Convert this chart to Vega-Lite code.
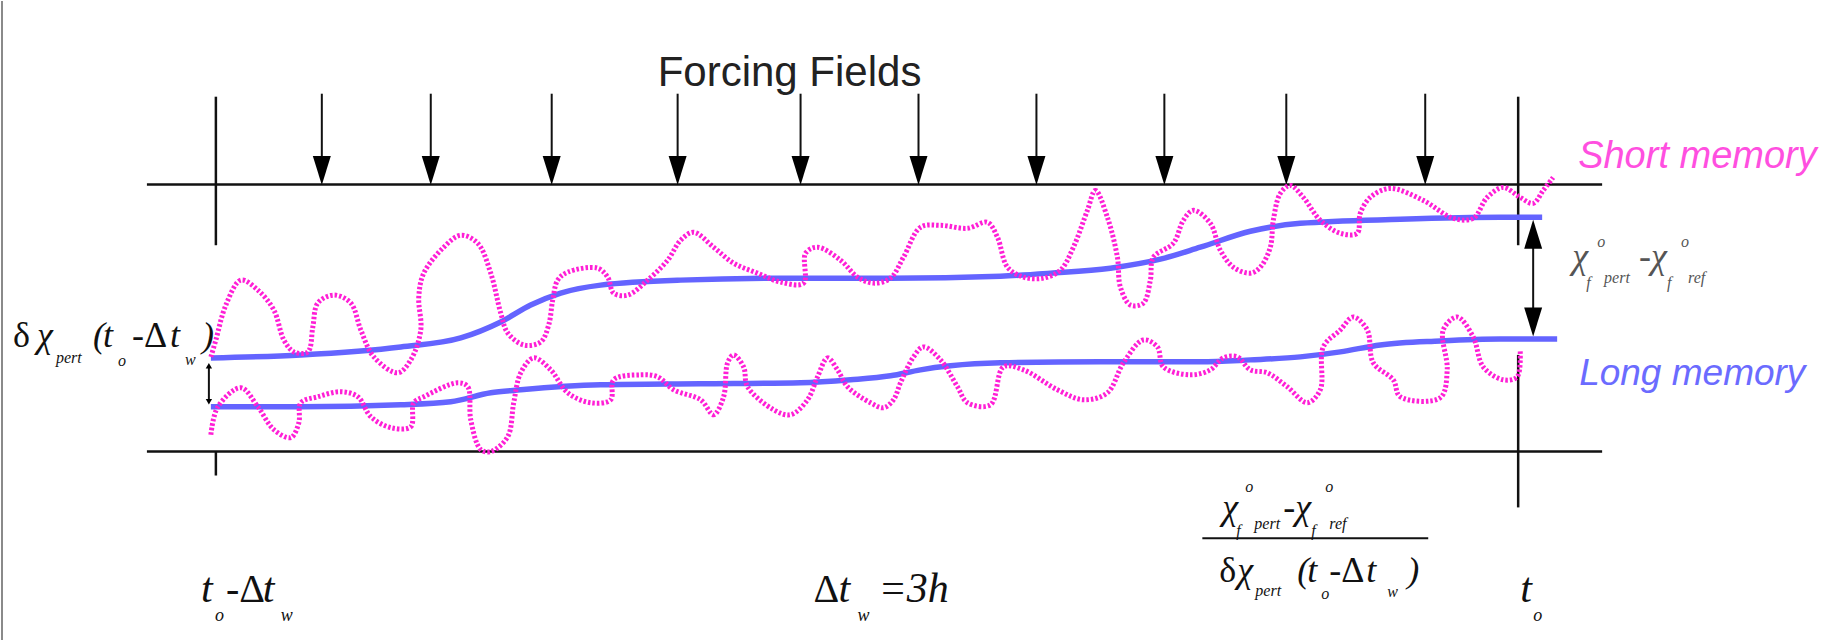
{
  "$schema": "https://vega.github.io/schema/vega-lite/v6.json",
  "width": 1831,
  "height": 641,
  "autosize": {"type": "fit", "contains": "padding"},
  "padding": 0,
  "background": "white",
  "config": {"view": {"stroke": null}},
  "datasets": {
    "border": [{"x": 1, "y": 0, "x2": 1, "y2": 641}],
    "rules": [
      {"x": 146, "y": 184, "x2": 1602, "y2": 184},
      {"x": 146, "y": 452, "x2": 1602, "y2": 452},
      {"x": 215, "y": 96, "x2": 215, "y2": 245},
      {"x": 215, "y": 452, "x2": 215, "y2": 476},
      {"x": 1518, "y": 96, "x2": 1518, "y2": 245},
      {"x": 1518, "y": 355, "x2": 1518, "y2": 508}
    ],
    "thin": [
      {"x": 321, "y": 93, "x2": 321, "y2": 165},
      {"x": 430, "y": 93, "x2": 430, "y2": 165},
      {"x": 551, "y": 93, "x2": 551, "y2": 165},
      {"x": 677, "y": 93, "x2": 677, "y2": 165},
      {"x": 800, "y": 93, "x2": 800, "y2": 165},
      {"x": 918, "y": 93, "x2": 918, "y2": 165},
      {"x": 1036, "y": 93, "x2": 1036, "y2": 165},
      {"x": 1164, "y": 93, "x2": 1164, "y2": 165},
      {"x": 1286, "y": 93, "x2": 1286, "y2": 165},
      {"x": 1425, "y": 93, "x2": 1425, "y2": 165},
      {"x": 1533, "y": 240, "x2": 1533, "y2": 318},
      {"x": 208, "y": 368, "x2": 208, "y2": 400},
      {"x": 1202, "y": 539, "x2": 1428, "y2": 539}
    ],
    "headsDown": [
      {"x": 321, "y": 170}, {"x": 430, "y": 170}, {"x": 551, "y": 170},
      {"x": 677, "y": 170}, {"x": 800, "y": 170}, {"x": 918, "y": 170},
      {"x": 1036, "y": 170}, {"x": 1164, "y": 170}, {"x": 1286, "y": 170},
      {"x": 1425, "y": 170}, {"x": 1533, "y": 322}
    ],
    "headsUp": [{"x": 1533, "y": 234}],
    "smallHeads": [
      {"x": 208, "y": 366, "dir": "up"},
      {"x": 208, "y": 402, "dir": "down"}
    ],
    "blue": [
      {"s": "short", "x": 210, "y": 358}, {"s": "short", "x": 300, "y": 355}, {"s": "short", "x": 400, "y": 347},
      {"s": "short", "x": 460, "y": 338}, {"s": "short", "x": 500, "y": 322}, {"s": "short", "x": 530, "y": 305},
      {"s": "short", "x": 560, "y": 293}, {"s": "short", "x": 600, "y": 285}, {"s": "short", "x": 680, "y": 280},
      {"s": "short", "x": 800, "y": 278}, {"s": "short", "x": 890, "y": 278}, {"s": "short", "x": 1000, "y": 276},
      {"s": "short", "x": 1050, "y": 273}, {"s": "short", "x": 1110, "y": 268}, {"s": "short", "x": 1160, "y": 259},
      {"s": "short", "x": 1200, "y": 247}, {"s": "short", "x": 1250, "y": 231}, {"s": "short", "x": 1300, "y": 223},
      {"s": "short", "x": 1400, "y": 219}, {"s": "short", "x": 1500, "y": 217}, {"s": "short", "x": 1542, "y": 217},
      {"s": "long", "x": 210, "y": 407}, {"s": "long", "x": 300, "y": 407}, {"s": "long", "x": 400, "y": 405},
      {"s": "long", "x": 450, "y": 402}, {"s": "long", "x": 490, "y": 393}, {"s": "long", "x": 520, "y": 390},
      {"s": "long", "x": 600, "y": 385}, {"s": "long", "x": 700, "y": 384}, {"s": "long", "x": 800, "y": 383},
      {"s": "long", "x": 850, "y": 380}, {"s": "long", "x": 890, "y": 376}, {"s": "long", "x": 920, "y": 370},
      {"s": "long", "x": 950, "y": 366}, {"s": "long", "x": 1000, "y": 363}, {"s": "long", "x": 1100, "y": 362},
      {"s": "long", "x": 1200, "y": 362}, {"s": "long", "x": 1250, "y": 360}, {"s": "long", "x": 1300, "y": 357},
      {"s": "long", "x": 1340, "y": 352}, {"s": "long", "x": 1380, "y": 345}, {"s": "long", "x": 1440, "y": 341},
      {"s": "long", "x": 1500, "y": 339}, {"s": "long", "x": 1557, "y": 339}
    ],
    "magShort": [
      {"i": 1, "x": 210, "y": 357}, {"i": 2, "x": 215, "y": 340}, {"i": 3, "x": 225, "y": 305}, {"i": 4, "x": 240, "y": 280},
      {"i": 5, "x": 257, "y": 290}, {"i": 6, "x": 273, "y": 310}, {"i": 7, "x": 283, "y": 340}, {"i": 8, "x": 293, "y": 352},
      {"i": 9, "x": 307, "y": 352}, {"i": 10, "x": 312, "y": 327}, {"i": 11, "x": 317, "y": 303}, {"i": 12, "x": 333, "y": 295},
      {"i": 13, "x": 350, "y": 303}, {"i": 14, "x": 360, "y": 330}, {"i": 15, "x": 373, "y": 357}, {"i": 16, "x": 397, "y": 373},
      {"i": 17, "x": 410, "y": 360}, {"i": 18, "x": 420, "y": 330}, {"i": 19, "x": 418, "y": 297}, {"i": 20, "x": 423, "y": 273},
      {"i": 21, "x": 443, "y": 247}, {"i": 22, "x": 460, "y": 235}, {"i": 23, "x": 477, "y": 243}, {"i": 24, "x": 490, "y": 273},
      {"i": 25, "x": 500, "y": 313}, {"i": 26, "x": 507, "y": 333}, {"i": 27, "x": 523, "y": 345}, {"i": 28, "x": 540, "y": 342},
      {"i": 29, "x": 548, "y": 325}, {"i": 30, "x": 552, "y": 300}, {"i": 31, "x": 557, "y": 280}, {"i": 32, "x": 567, "y": 272},
      {"i": 33, "x": 597, "y": 268}, {"i": 34, "x": 607, "y": 277}, {"i": 35, "x": 613, "y": 293}, {"i": 36, "x": 627, "y": 295},
      {"i": 37, "x": 647, "y": 280}, {"i": 38, "x": 667, "y": 260}, {"i": 39, "x": 680, "y": 240}, {"i": 40, "x": 693, "y": 232},
      {"i": 41, "x": 713, "y": 247}, {"i": 42, "x": 733, "y": 263}, {"i": 43, "x": 757, "y": 273}, {"i": 44, "x": 780, "y": 282},
      {"i": 45, "x": 803, "y": 283}, {"i": 46, "x": 805, "y": 253}, {"i": 47, "x": 817, "y": 247}, {"i": 48, "x": 840, "y": 260},
      {"i": 49, "x": 857, "y": 277}, {"i": 50, "x": 873, "y": 283}, {"i": 51, "x": 890, "y": 278}, {"i": 52, "x": 903, "y": 257},
      {"i": 53, "x": 920, "y": 227}, {"i": 54, "x": 940, "y": 225}, {"i": 55, "x": 967, "y": 228}, {"i": 56, "x": 987, "y": 222},
      {"i": 57, "x": 997, "y": 237}, {"i": 58, "x": 1007, "y": 267}, {"i": 59, "x": 1023, "y": 277}, {"i": 60, "x": 1043, "y": 278},
      {"i": 61, "x": 1060, "y": 270}, {"i": 62, "x": 1073, "y": 247}, {"i": 63, "x": 1087, "y": 210}, {"i": 64, "x": 1095, "y": 190},
      {"i": 65, "x": 1107, "y": 217}, {"i": 66, "x": 1117, "y": 257}, {"i": 67, "x": 1120, "y": 287}, {"i": 68, "x": 1130, "y": 305},
      {"i": 69, "x": 1143, "y": 303}, {"i": 70, "x": 1150, "y": 280}, {"i": 71, "x": 1153, "y": 257}, {"i": 72, "x": 1173, "y": 243},
      {"i": 73, "x": 1183, "y": 220}, {"i": 74, "x": 1193, "y": 210}, {"i": 75, "x": 1210, "y": 223}, {"i": 76, "x": 1220, "y": 250},
      {"i": 77, "x": 1233, "y": 267}, {"i": 78, "x": 1250, "y": 273}, {"i": 79, "x": 1260, "y": 267}, {"i": 80, "x": 1270, "y": 247},
      {"i": 81, "x": 1273, "y": 220}, {"i": 82, "x": 1280, "y": 193}, {"i": 83, "x": 1290, "y": 185}, {"i": 84, "x": 1303, "y": 197},
      {"i": 85, "x": 1320, "y": 220}, {"i": 86, "x": 1340, "y": 233}, {"i": 87, "x": 1357, "y": 233}, {"i": 88, "x": 1360, "y": 213},
      {"i": 89, "x": 1370, "y": 197}, {"i": 90, "x": 1390, "y": 188}, {"i": 91, "x": 1423, "y": 200}, {"i": 92, "x": 1453, "y": 218},
      {"i": 93, "x": 1473, "y": 218}, {"i": 94, "x": 1487, "y": 197}, {"i": 95, "x": 1503, "y": 187}, {"i": 96, "x": 1520, "y": 197},
      {"i": 97, "x": 1533, "y": 203}, {"i": 98, "x": 1543, "y": 190}, {"i": 99, "x": 1553, "y": 177}
    ],
    "magLong": [
      {"i": 1, "x": 210, "y": 435}, {"i": 2, "x": 217, "y": 407}, {"i": 3, "x": 240, "y": 388}, {"i": 4, "x": 257, "y": 407},
      {"i": 5, "x": 273, "y": 430}, {"i": 6, "x": 290, "y": 438}, {"i": 7, "x": 298, "y": 423}, {"i": 8, "x": 300, "y": 403},
      {"i": 9, "x": 317, "y": 397}, {"i": 10, "x": 340, "y": 392}, {"i": 11, "x": 357, "y": 397}, {"i": 12, "x": 370, "y": 417},
      {"i": 13, "x": 390, "y": 428}, {"i": 14, "x": 410, "y": 427}, {"i": 15, "x": 413, "y": 403}, {"i": 16, "x": 423, "y": 397},
      {"i": 17, "x": 457, "y": 383}, {"i": 18, "x": 467, "y": 387}, {"i": 19, "x": 470, "y": 420}, {"i": 20, "x": 480, "y": 450},
      {"i": 21, "x": 490, "y": 452}, {"i": 22, "x": 507, "y": 437}, {"i": 23, "x": 513, "y": 403}, {"i": 24, "x": 520, "y": 373},
      {"i": 25, "x": 533, "y": 358}, {"i": 26, "x": 550, "y": 370}, {"i": 27, "x": 567, "y": 393}, {"i": 28, "x": 590, "y": 403},
      {"i": 29, "x": 610, "y": 400}, {"i": 30, "x": 613, "y": 380}, {"i": 31, "x": 640, "y": 375}, {"i": 32, "x": 657, "y": 377},
      {"i": 33, "x": 673, "y": 390}, {"i": 34, "x": 700, "y": 400}, {"i": 35, "x": 713, "y": 415}, {"i": 36, "x": 723, "y": 397},
      {"i": 37, "x": 727, "y": 363}, {"i": 38, "x": 733, "y": 355}, {"i": 39, "x": 743, "y": 367}, {"i": 40, "x": 747, "y": 387},
      {"i": 41, "x": 773, "y": 410}, {"i": 42, "x": 790, "y": 415}, {"i": 43, "x": 807, "y": 400}, {"i": 44, "x": 817, "y": 377},
      {"i": 45, "x": 827, "y": 358}, {"i": 46, "x": 837, "y": 370}, {"i": 47, "x": 847, "y": 387}, {"i": 48, "x": 870, "y": 403},
      {"i": 49, "x": 883, "y": 408}, {"i": 50, "x": 893, "y": 400}, {"i": 51, "x": 900, "y": 383}, {"i": 52, "x": 913, "y": 357},
      {"i": 53, "x": 923, "y": 347}, {"i": 54, "x": 940, "y": 360}, {"i": 55, "x": 957, "y": 387}, {"i": 56, "x": 967, "y": 403},
      {"i": 57, "x": 990, "y": 405}, {"i": 58, "x": 1003, "y": 367}, {"i": 59, "x": 1023, "y": 370}, {"i": 60, "x": 1057, "y": 390},
      {"i": 61, "x": 1083, "y": 400}, {"i": 62, "x": 1107, "y": 393}, {"i": 63, "x": 1123, "y": 363}, {"i": 64, "x": 1143, "y": 340},
      {"i": 65, "x": 1157, "y": 347}, {"i": 66, "x": 1163, "y": 367}, {"i": 67, "x": 1190, "y": 375}, {"i": 68, "x": 1210, "y": 370},
      {"i": 69, "x": 1223, "y": 358}, {"i": 70, "x": 1237, "y": 357}, {"i": 71, "x": 1250, "y": 370}, {"i": 72, "x": 1267, "y": 373},
      {"i": 73, "x": 1287, "y": 387}, {"i": 74, "x": 1307, "y": 403}, {"i": 75, "x": 1320, "y": 390}, {"i": 76, "x": 1323, "y": 347},
      {"i": 77, "x": 1340, "y": 330}, {"i": 78, "x": 1353, "y": 317}, {"i": 79, "x": 1367, "y": 330}, {"i": 80, "x": 1373, "y": 363},
      {"i": 81, "x": 1393, "y": 380}, {"i": 82, "x": 1400, "y": 397}, {"i": 83, "x": 1440, "y": 398}, {"i": 84, "x": 1447, "y": 370},
      {"i": 85, "x": 1443, "y": 330}, {"i": 86, "x": 1457, "y": 317}, {"i": 87, "x": 1473, "y": 337}, {"i": 88, "x": 1483, "y": 367},
      {"i": 89, "x": 1503, "y": 380}, {"i": 90, "x": 1517, "y": 377}, {"i": 91, "x": 1520, "y": 350}
    ],
    "mathL": [
      {"t": "t", "x": 200, "y": 603}, {"t": "t", "x": 262, "y": 603},
      {"t": "t", "x": 838, "y": 603}, {"t": "=3h", "x": 878, "y": 603},
      {"t": "t", "x": 1520, "y": 603}
    ],
    "mathLup": [
      {"t": "-Δ", "x": 225, "y": 603}, {"t": "Δ", "x": 813, "y": 603}
    ],
    "mathLsub": [
      {"t": "o", "x": 214, "y": 622}, {"t": "w", "x": 280, "y": 622},
      {"t": "w", "x": 857, "y": 622}, {"t": "o", "x": 1533, "y": 622}
    ],
    "mathM": [
      {"t": "χ", "x": 36, "y": 347}, {"t": "(", "x": 92, "y": 347}, {"t": "t", "x": 102, "y": 347},
      {"t": "t", "x": 169, "y": 347}, {"t": ")", "x": 201, "y": 347},
      {"t": "χ", "x": 1237, "y": 583}, {"t": "(", "x": 1297, "y": 583}, {"t": "t", "x": 1307, "y": 583},
      {"t": "t", "x": 1366, "y": 583}, {"t": ")", "x": 1407, "y": 583},
      {"t": "χ", "x": 1222, "y": 520}, {"t": "-χ", "x": 1283, "y": 520}
    ],
    "mathMup": [
      {"t": "δ", "x": 12, "y": 347}, {"t": "-Δ", "x": 131, "y": 347},
      {"t": "δ", "x": 1219, "y": 583}, {"t": "-Δ", "x": 1329, "y": 583}
    ],
    "mathS": [
      {"t": "pert", "x": 55, "y": 363}, {"t": "o", "x": 117, "y": 366}, {"t": "w", "x": 184, "y": 365},
      {"t": "pert", "x": 1255, "y": 597}, {"t": "o", "x": 1321, "y": 600}, {"t": "w", "x": 1387, "y": 598},
      {"t": "f", "x": 1236, "y": 537}, {"t": "pert", "x": 1254, "y": 530}, {"t": "f", "x": 1311, "y": 537}, {"t": "ref", "x": 1329, "y": 530},
      {"t": "o", "x": 1245, "y": 493}, {"t": "o", "x": 1325, "y": 493}
    ],
    "grayM": [
      {"t": "χ", "x": 1572, "y": 268}, {"t": "-χ", "x": 1639, "y": 268}
    ],
    "grayS": [
      {"t": "f", "x": 1586, "y": 288}, {"t": "pert", "x": 1604, "y": 283}, {"t": "f", "x": 1667, "y": 288}, {"t": "ref", "x": 1688, "y": 283},
      {"t": "o", "x": 1597, "y": 247}, {"t": "o", "x": 1681, "y": 247}
    ],
    "title": [{"t": "Forcing Fields", "x": 657, "y": 85}],
    "shortLbl": [{"t": "Short memory", "x": 1578, "y": 168}],
    "longLbl": [{"t": "Long memory", "x": 1579, "y": 385}]
  },
  "encoding": {
    "x": {"field": "x", "type": "quantitative", "scale": {"domain": [0, 1831], "nice": false, "zero": false}, "axis": null},
    "y": {"field": "y", "type": "quantitative", "scale": {"domain": [0, 641], "nice": false, "zero": false, "reverse": true}, "axis": null}
  },
  "layer": [
    {"data": {"name": "border"}, "mark": {"type": "rule", "color": "#8a8a8a", "strokeWidth": 2},
     "encoding": {"x2": {"field": "x2"}, "y2": {"field": "y2"}}},
    {"data": {"name": "rules"}, "mark": {"type": "rule", "color": "#111111", "strokeWidth": 2.5},
     "encoding": {"x2": {"field": "x2"}, "y2": {"field": "y2"}}},
    {"data": {"name": "thin"}, "mark": {"type": "rule", "color": "#111111", "strokeWidth": 2},
     "encoding": {"x2": {"field": "x2"}, "y2": {"field": "y2"}}},
    {"data": {"name": "headsDown"}, "mark": {"type": "point", "shape": "M-0.62,-1L0.62,-1L0,1Z", "filled": true, "color": "#000000", "opacity": 1, "size": 841, "strokeWidth": 0}},
    {"data": {"name": "headsUp"}, "mark": {"type": "point", "shape": "M-0.62,1L0.62,1L0,-1Z", "filled": true, "color": "#000000", "opacity": 1, "size": 841, "strokeWidth": 0}},
    {"data": {"name": "smallHeads"}, "mark": {"type": "point", "filled": true, "color": "#000000", "opacity": 1, "size": 40, "strokeWidth": 0},
     "encoding": {"shape": {"field": "dir", "type": "nominal", "scale": {"domain": ["up", "down"], "range": ["triangle-up", "triangle-down"]}, "legend": null}}},
    {"data": {"name": "blue"}, "mark": {"type": "line", "color": "#6464ff", "strokeWidth": 5.5, "interpolate": "monotone", "strokeCap": "butt"},
     "encoding": {"detail": {"field": "s", "type": "nominal"}}},
    {"data": {"name": "magShort"}, "mark": {"type": "line", "color": "#ff1fd6", "strokeWidth": 5, "strokeDash": [2.5, 2], "interpolate": "catmull-rom"},
     "encoding": {"order": {"field": "i", "type": "quantitative"}}},
    {"data": {"name": "magLong"}, "mark": {"type": "line", "color": "#ff1fd6", "strokeWidth": 5, "strokeDash": [2.5, 2], "interpolate": "catmull-rom"},
     "encoding": {"order": {"field": "i", "type": "quantitative"}}},
    {"data": {"name": "mathL"}, "mark": {"type": "text", "font": "Liberation Serif", "fontStyle": "italic", "fontSize": 42, "align": "left", "baseline": "alphabetic", "color": "#111111"},
     "encoding": {"text": {"field": "t"}}},
    {"data": {"name": "mathLup"}, "mark": {"type": "text", "font": "Liberation Serif", "fontSize": 40, "align": "left", "baseline": "alphabetic", "color": "#111111"},
     "encoding": {"text": {"field": "t"}}},
    {"data": {"name": "mathLsub"}, "mark": {"type": "text", "font": "Liberation Serif", "fontStyle": "italic", "fontSize": 18, "align": "left", "baseline": "alphabetic", "color": "#111111"},
     "encoding": {"text": {"field": "t"}}},
    {"data": {"name": "mathM"}, "mark": {"type": "text", "font": "Liberation Serif", "fontStyle": "italic", "fontSize": 36, "align": "left", "baseline": "alphabetic", "color": "#111111"},
     "encoding": {"text": {"field": "t"}}},
    {"data": {"name": "mathMup"}, "mark": {"type": "text", "font": "Liberation Serif", "fontSize": 36, "align": "left", "baseline": "alphabetic", "color": "#111111"},
     "encoding": {"text": {"field": "t"}}},
    {"data": {"name": "mathS"}, "mark": {"type": "text", "font": "Liberation Serif", "fontStyle": "italic", "fontSize": 16, "align": "left", "baseline": "alphabetic", "color": "#111111"},
     "encoding": {"text": {"field": "t"}}},
    {"data": {"name": "grayM"}, "mark": {"type": "text", "font": "Liberation Serif", "fontStyle": "italic", "fontSize": 36, "align": "left", "baseline": "alphabetic", "color": "#555555"},
     "encoding": {"text": {"field": "t"}}},
    {"data": {"name": "grayS"}, "mark": {"type": "text", "font": "Liberation Serif", "fontStyle": "italic", "fontSize": 16, "align": "left", "baseline": "alphabetic", "color": "#555555"},
     "encoding": {"text": {"field": "t"}}},
    {"data": {"name": "title"}, "mark": {"type": "text", "font": "Liberation Sans", "fontSize": 42, "align": "left", "baseline": "alphabetic", "color": "#222222"},
     "encoding": {"text": {"field": "t"}}},
    {"data": {"name": "shortLbl"}, "mark": {"type": "text", "font": "Liberation Sans", "fontStyle": "italic", "fontSize": 38, "align": "left", "baseline": "alphabetic", "color": "#ff4fe0"},
     "encoding": {"text": {"field": "t"}}},
    {"data": {"name": "longLbl"}, "mark": {"type": "text", "font": "Liberation Sans", "fontStyle": "italic", "fontSize": 37, "align": "left", "baseline": "alphabetic", "color": "#6b6bff"},
     "encoding": {"text": {"field": "t"}}}
  ]
}
